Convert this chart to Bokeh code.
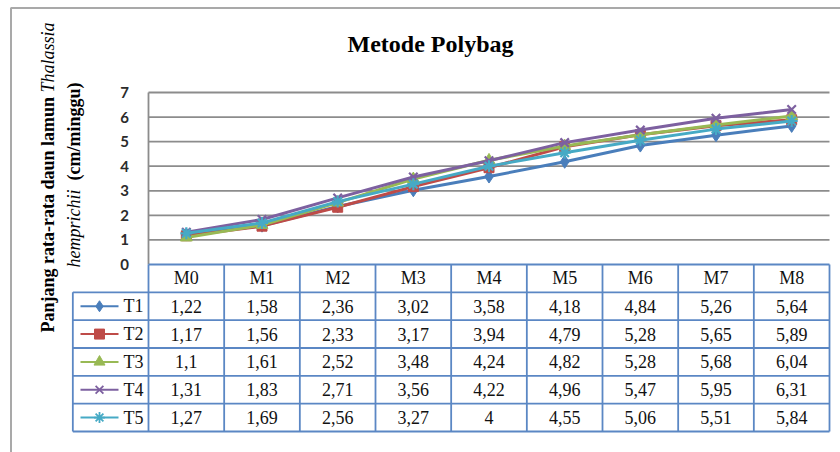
import numpy as np
from bokeh.plotting import figure
from bokeh.models import Range1d
from bokeh.core.properties import value
from bokeh.embed import file_html
from bokeh.resources import INLINE

# ---------------- data ----------------
title_text = "Metode Polybag"
categories = ["M0", "M1", "M2", "M3", "M4", "M5", "M6", "M7", "M8"]
series_names = ["T1", "T2", "T3", "T4", "T5"]
T1 = [1.22, 1.58, 2.36, 3.02, 3.58, 4.18, 4.84, 5.26, 5.64]
T2 = [1.17, 1.56, 2.33, 3.17, 3.94, 4.79, 5.28, 5.65, 5.89]
T3 = [1.10, 1.61, 2.52, 3.48, 4.24, 4.82, 5.28, 5.68, 6.04]
T4 = [1.31, 1.83, 2.71, 3.56, 4.22, 4.96, 5.47, 5.95, 6.31]
T5 = [1.27, 1.69, 2.56, 3.27, 4.00, 4.55, 5.06, 5.51, 5.84]
y_ticks = [0, 1, 2, 3, 4, 5, 6, 7]
y_label_1_bold = "Panjang rata-rata  daun lamun"
y_label_1_italic = "Thalassia"
y_label_2_italic = "hemprichii"
y_label_2_bold = "(cm/minggu)"

series = [T1, T2, T3, T4, T5]
colors = ["#4a7ebb", "#be4b48", "#98b954", "#7d60a0", "#46aac5"]
markers = ["diamond", "square", "triangle", "x", "asterisk"]
msizes = [13, 10, 12, 12, 12]
leg_sizes = [11, 10, 11, 11, 11]

# ---------------- layout geometry (pixels of the picture) ----------------
OFF = 0
W_FIG, H_FIG = 840, 452
COL_L, COL_R = 148, 829
COLW = (COL_R - COL_L) / len(categories)
Y0_PX, YTOP_PX = 264, 92
UNIT = (Y0_PX - YTOP_PX) / 7
TBL_TOP, TBL_BOT = 264, 431
RH = (TBL_BOT - TBL_TOP) / 6

x_range = Range1d((OFF - COL_L) / COLW - 0.5, (OFF + W_FIG - COL_L) / COLW - 0.5)
y_range = Range1d((Y0_PX - (OFF + H_FIG)) / UNIT, (Y0_PX - OFF) / UNIT)

p = figure(width=W_FIG, height=H_FIG, x_range=x_range, y_range=y_range,
           output_backend="svg", toolbar_location=None, title=None,
           x_axis_location=None, y_axis_location=None, min_border=0)
p.extra_y_ranges = {"tbl": Range1d((OFF + H_FIG - TBL_TOP) / RH, (OFF - TBL_TOP) / RH),
                    "px": Range1d(OFF + H_FIG, OFF)}
p.extra_x_ranges = {"px": Range1d(OFF, OFF + W_FIG)}
p.grid.visible = False
p.outline_line_color = None
p.background_fill_color = "white"
p.border_fill_color = "white"

serif = value("Liberation Serif")
n = len(categories)
idx = list(range(n))

# outer chart border (left and top)
p.segment(x0=[10.5, 10], y0=[7.5, 7.5], x1=[10.5, OFF + W_FIG], y1=[OFF + H_FIG, 7.5],
          x_range_name="px", y_range_name="px", line_color="#a9a9a9", line_width=2)

# gridlines and plot-area left edge
p.segment(x0=-0.5, x1=n - 0.5, y0=y_ticks[1:], y1=y_ticks[1:],
          line_color="#8c8c8c", line_width=1.8)
p.segment(x0=-0.5, x1=-0.5, y0=y_ticks[0], y1=y_ticks[-1],
          line_color="#8c8c8c", line_width=1.8)

# y tick labels
p.text(x=124, y=y_ticks, text=[str(t) for t in y_ticks], x_range_name="px",
       text_font=value("Lato"), text_font_style="bold", text_font_size="15px",
       text_color="#2b2b2b", text_align="center", text_baseline="middle")

# series
for vals, c, m, s in zip(series, colors, markers, msizes):
    p.line(x=idx, y=vals, line_color=c, line_width=3)
    p.scatter(x=idx, y=vals, marker=m, size=s, fill_color=c, line_color=c,
              line_width=2.2 if m in ("x", "asterisk") else 1)

# title
p.text(x=[430], y=[43], text=[title_text], x_range_name="px", y_range_name="px",
       text_font=serif, text_font_style="bold", text_font_size="24px",
       text_color="#000000", text_align="center", text_baseline="alphabetic")

# y-axis title (rotated, mixed styles)
FS = 18
bold1_w = 13.08 * FS
p.text(x=[47], y=[332], text=[y_label_1_bold], angle=np.pi / 2,
       x_range_name="px", y_range_name="px", text_font=serif, text_font_style="bold",
       text_font_size=f"{FS}px", text_color="#000000", text_align="left", text_baseline="middle")
p.text(x=[47], y=[332 - bold1_w - 0.25 * FS], text=[y_label_1_italic], angle=np.pi / 2,
       x_range_name="px", y_range_name="px", text_font=serif, text_font_style="italic",
       text_font_size=f"{FS}px", text_color="#000000", text_align="left", text_baseline="middle")
ital2_w = 4.333 * FS
p.text(x=[73], y=[267], text=[y_label_2_italic], angle=np.pi / 2,
       x_range_name="px", y_range_name="px", text_font=serif, text_font_style="italic",
       text_font_size=f"{FS}px", text_color="#000000", text_align="left", text_baseline="middle")
p.text(x=[73], y=[267 - ital2_w - 0.5 * FS], text=[y_label_2_bold], angle=np.pi / 2,
       x_range_name="px", y_range_name="px", text_font=serif, text_font_style="bold",
       text_font_size=f"{FS}px", text_color="#000000", text_align="left", text_baseline="middle")

# ---------------- data table ----------------
nrows = len(series) + 1
blue = "#5b87c4"
p.segment(x0=[-0.5] + [-1.5] * nrows, x1=[n - 0.5] * (nrows + 1),
          y0=list(range(nrows + 1)), y1=list(range(nrows + 1)),
          y_range_name="tbl", line_color=blue, line_width=1.8)
vx = [-1.5] + [i - 0.5 for i in range(n + 1)]
vy0 = [1] + [0] * (n + 1)
p.segment(x0=vx, x1=vx, y0=vy0, y1=[nrows] * len(vx),
          y_range_name="tbl", line_color=blue, line_width=1.8)

def fmt(v):
    return f"{v:g}".replace(".", ",")

p.text(x=idx, y=[0.5] * n, text=categories, y_range_name="tbl",
       text_font=serif, text_font_size="18px", text_color="#111111",
       text_align="center", text_baseline="middle")
for k, vals in enumerate(series):
    p.text(x=idx, y=[k + 1.5] * n, text=[fmt(v) for v in vals], y_range_name="tbl",
           text_font=serif, text_font_size="18px", text_color="#111111",
           text_align="center", text_baseline="middle")

ys = [k + 1.5 for k in range(len(series))]
for k, (c, m, s) in enumerate(zip(colors, markers, leg_sizes)):
    p.segment(x0=[80], x1=[118], y0=[ys[k]], y1=[ys[k]], x_range_name="px",
              y_range_name="tbl", line_color=c, line_width=2)
    p.scatter(x=[99], y=[ys[k]], marker=m, size=s, fill_color=c, line_color=c,
              line_width=1.8 if m in ("x", "asterisk") else 1,
              x_range_name="px", y_range_name="tbl")
p.text(x=123, y=ys, text=series_names, x_range_name="px", y_range_name="tbl",
       text_font=serif, text_font_size="18px", text_color="#111111",
       text_align="left", text_baseline="middle")

open("out.html", "w").write(file_html(p, INLINE))
